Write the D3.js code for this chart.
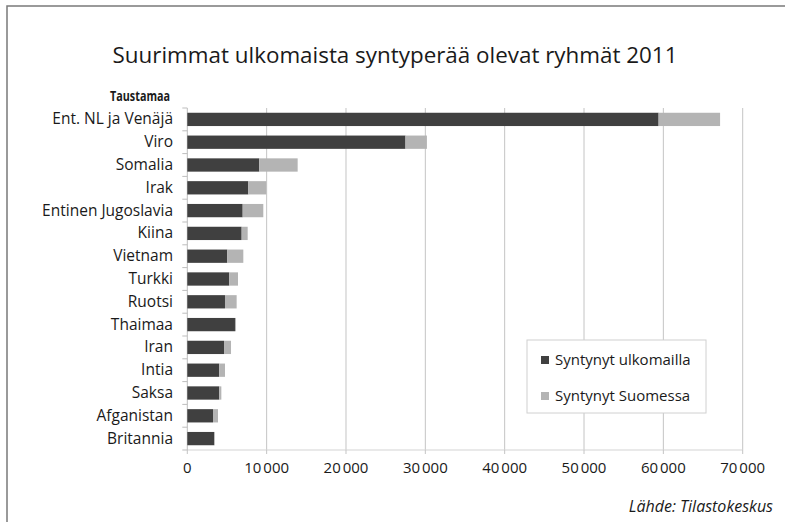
<!DOCTYPE html>
<html>
<head>
<meta charset="utf-8">
<script src="https://cdn.jsdelivr.net/npm/d3@7"></script>
<style>
  html, body { margin: 0; padding: 0; background: #fff; }
  svg { display: block; font-family: "Open Sans", sans-serif; }
</style>
</head>
<body>
<svg id="chart" width="785" height="522"></svg>
<script>
const categories = ["Ent. NL ja Venäjä", "Viro", "Somalia", "Irak", "Entinen Jugoslavia", "Kiina", "Vietnam", "Turkki", "Ruotsi", "Thaimaa", "Iran", "Intia", "Saksa", "Afganistan", "Britannia"];
const bornAbroad = [59400, 27500, 9070, 7690, 6980, 6850, 5040, 5290, 4750, 6010, 4630, 4030, 4030, 3240, 3400];
const bornInFinland = [7750, 2700, 4840, 2270, 2600, 760, 2020, 1100, 1470, 130, 880, 720, 260, 630, 60];
const seriesNames = ["Syntynyt ulkomailla", "Syntynyt Suomessa"];
const seriesColors = ["#404040", "#b4b4b4"];
const xTicks = [0, 10000, 20000, 30000, 40000, 50000, 60000, 70000];
const xTickLabels = ["0", "10\u202F000", "20\u202F000", "30\u202F000", "40\u202F000", "50\u202F000", "60\u202F000", "70\u202F000"];
const titleText = "Suurimmat ulkomaista syntyperää olevat ryhmät 2011";
const axisTitle = "Taustamaa";
const sourceText = "Lähde: Tilastokeskus";

const svg = d3.select("#chart");

// outer frame
svg.append("rect").attr("x", 7).attr("y", 6).attr("width", 900).attr("height", 700)
  .attr("fill", "none").attr("stroke", "#7a7a7a").attr("stroke-width", 1.5);

const x = d3.scaleLinear().domain([0, 70000]).range([187.3, 742.7]);
const pad = 0.417;
const y = d3.scaleBand().domain(categories).range([108, 450]).paddingInner(pad).paddingOuter(pad / 2);
const step = y.step();

// gridlines
svg.append("g").selectAll("line").data(xTicks.slice(1)).join("line")
  .attr("x1", d => x(d)).attr("x2", d => x(d))
  .attr("y1", 108).attr("y2", 450)
  .attr("stroke", "#c4c4c4").attr("stroke-width", 1);

// x axis line + ticks
svg.append("line").attr("x1", x(0)).attr("x2", x(70000)).attr("y1", 450).attr("y2", 450)
  .attr("stroke", "#d4d4d4").attr("stroke-width", 1.2);
svg.append("g").selectAll("line").data(xTicks).join("line")
  .attr("x1", d => x(d)).attr("x2", d => x(d)).attr("y1", 450).attr("y2", 454)
  .attr("stroke", "#c4c4c4");
svg.append("g").selectAll("text").data(xTicks).join("text")
  .attr("x", d => x(d)).attr("y", 473)
  .attr("text-anchor", "middle").attr("font-size", 15).attr("fill", "#1a1a1a")
  .text((d, i) => xTickLabels[i]);

// y axis line + boundary ticks
svg.append("line").attr("x1", x(0)).attr("x2", x(0)).attr("y1", 108).attr("y2", 450)
  .attr("stroke", "#bdbdbd");
const bounds = d3.range(categories.length + 1).map(k => 108 + k * step);
svg.append("g").selectAll("line").data(bounds).join("line")
  .attr("x1", x(0) - 5).attr("x2", x(0)).attr("y1", d => d).attr("y2", d => d)
  .attr("stroke", "#bdbdbd");

// bars
const rows = categories.map((c, i) => ({ c, a: bornAbroad[i], f: bornInFinland[i] }));
svg.append("g").selectAll("rect").data(rows).join("rect")
  .attr("x", d => x(0)).attr("y", d => y(d.c))
  .attr("width", d => x(d.a) - x(0)).attr("height", y.bandwidth())
  .attr("fill", seriesColors[0]);
svg.append("g").selectAll("rect").data(rows).join("rect")
  .attr("x", d => x(d.a)).attr("y", d => y(d.c))
  .attr("width", d => x(d.a + d.f) - x(d.a)).attr("height", y.bandwidth())
  .attr("fill", seriesColors[1]);

// category labels
svg.append("g").selectAll("text").data(categories).join("text")
  .attr("x", 173).attr("y", d => y(d) + y.bandwidth() / 2 + 5)
  .attr("text-anchor", "end").attr("font-size", 15.5).attr("fill", "#1a1a1a")
  .text(d => d);

// axis title
svg.append("text").attr("x", 170).attr("y", 101).attr("text-anchor", "end")
  .attr("font-size", 13.5).attr("font-weight", "bold").attr("fill", "#1a1a1a")
  .attr("textLength", 60).attr("lengthAdjust", "spacingAndGlyphs").text(axisTitle);

// title
svg.append("text").attr("x", 395).attr("y", 63).attr("text-anchor", "middle")
  .attr("font-size", 22.4).attr("fill", "#1a1a1a").text(titleText);

// legend
const lg = svg.append("g");
lg.append("rect").attr("x", 527).attr("y", 340).attr("width", 179).attr("height", 73)
  .attr("fill", "#fff").attr("stroke", "#d0d0d0");
seriesNames.forEach((n, i) => {
  const yy = 360 + i * 36;
  lg.append("rect").attr("x", 541).attr("y", yy - 4).attr("width", 8).attr("height", 8)
    .attr("fill", seriesColors[i]);
  lg.append("text").attr("x", 555).attr("y", yy + 5).attr("font-size", 15)
    .attr("fill", "#1a1a1a").text(n);
});

// source
svg.append("text").attr("x", 773).attr("y", 512).attr("text-anchor", "end")
  .attr("font-size", 16).attr("font-style", "italic").attr("fill", "#1a1a1a").text(sourceText);
</script>
</body>
</html>
